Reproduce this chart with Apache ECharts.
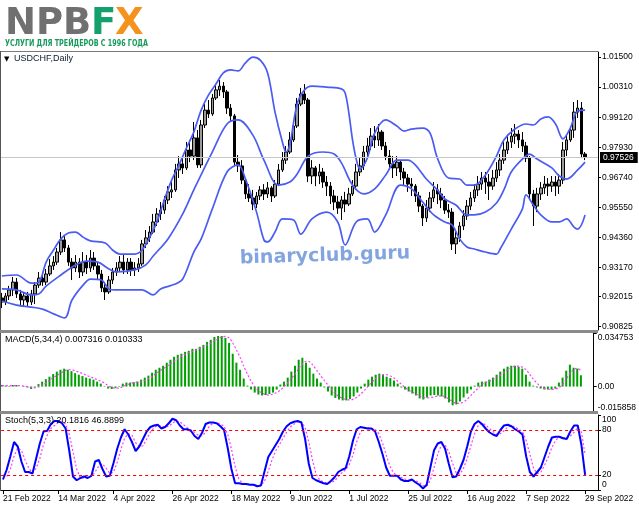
<!DOCTYPE html>
<html><head><meta charset="utf-8">
<script src="https://cdn.jsdelivr.net/npm/echarts@6/dist/echarts.min.js"></script>
<style>html,body{margin:0;padding:0;background:#fff}#c{width:639px;height:508px}</style>
</head><body><div id="c"></div>
<script>
// ---------- categories / tick labels ----------
const MONTHS = ['Jan','Feb','Mar','Apr','May','Jun','Jul','Aug','Sep','Oct','Nov','Dec'];
const dates = [];
for (let t = Date.UTC(2022,1,21); t <= Date.UTC(2022,8,29); t += 86400000) {
  const d = new Date(t); const w = d.getUTCDay();
  if (w === 0 || w === 6) continue;
  dates.push(d.getUTCDate() + ' ' + MONTHS[d.getUTCMonth()] + ' ' + d.getUTCFullYear());
}
const categories = dates.concat(['', '', '']);
const dateTicks = ['21 Feb 2022','14 Mar 2022','4 Apr 2022','26 Apr 2022','18 May 2022','9 Jun 2022','1 Jul 2022','25 Jul 2022','16 Aug 2022','7 Sep 2022','29 Sep 2022'];
const priceTicks = [1.01500,1.00310,0.99120,0.97930,0.96740,0.95550,0.94360,0.93170,0.92015,0.90825];
const macdTicks = [0.034753, 0, -0.015858];
const stochTicks = [100, 80, 20, 0];
const lastPrice = 0.97526;

// ---------- price (OHLC) ----------
const opens = [0.9196,0.9180,0.9204,0.9228,0.9259,0.9212,0.9188,0.9204,0.9180,0.9212,
0.9247,0.9275,0.9259,0.9291,0.9323,0.9338,0.9378,0.9426,0.9394,0.9338,
0.9315,0.9338,0.9299,0.9338,0.9315,0.9354,0.9323,0.9291,0.9236,0.9220,
0.9267,0.9299,0.9315,0.9338,0.9307,0.9338,0.9307,0.9315,0.9331,0.9410,
0.9434,0.9457,0.9497,0.9529,0.9544,0.9584,0.9616,0.9624,0.9703,0.9727,
0.9711,0.9782,0.9758,0.9830,0.9723,0.9881,0.9940,0.9925,0.9988,1.0020,
1.0035,1.0012,0.9948,0.9917,0.9734,0.9719,0.9663,0.9608,0.9592,0.9568,
0.9600,0.9624,0.9608,0.9632,0.9600,0.9647,0.9703,0.9742,0.9774,0.9822,
0.9877,0.9964,1.0004,0.9980,0.9679,0.9711,0.9679,0.9695,0.9655,0.9639,
0.9600,0.9576,0.9552,0.9584,0.9568,0.9608,0.9639,0.9695,0.9719,0.9774,
0.9798,0.9837,0.9822,0.9853,0.9798,0.9758,0.9727,0.9711,0.9734,0.9695,
0.9671,0.9647,0.9639,0.9600,0.9560,0.9513,0.9552,0.9592,0.9624,0.9608,
0.9584,0.9544,0.9536,0.9410,0.9434,0.9481,0.9521,0.9560,0.9592,0.9624,
0.9647,0.9671,0.9655,0.9639,0.9671,0.9703,0.9742,0.9782,0.9814,0.9837,
0.9845,0.9822,0.9798,0.9750,0.9608,0.9560,0.9608,0.9632,0.9647,0.9639,
0.9655,0.9639,0.9663,0.9782,0.9822,0.9861,0.9932,0.9948,0.9766];
const closes = [0.9180,0.9204,0.9228,0.9259,0.9212,0.9188,0.9204,0.9180,0.9212,0.9247,
0.9275,0.9259,0.9291,0.9323,0.9338,0.9378,0.9426,0.9394,0.9338,0.9315,
0.9338,0.9299,0.9338,0.9315,0.9354,0.9323,0.9291,0.9236,0.9220,0.9267,
0.9299,0.9315,0.9338,0.9307,0.9338,0.9307,0.9315,0.9331,0.9410,0.9434,
0.9457,0.9497,0.9529,0.9544,0.9584,0.9616,0.9624,0.9703,0.9727,0.9711,
0.9782,0.9758,0.9830,0.9723,0.9881,0.9940,0.9925,0.9988,1.0020,1.0035,
1.0012,0.9948,0.9917,0.9734,0.9719,0.9663,0.9608,0.9592,0.9568,0.9600,
0.9624,0.9608,0.9632,0.9600,0.9647,0.9703,0.9742,0.9774,0.9822,0.9877,
0.9964,1.0004,0.9980,0.9679,0.9711,0.9679,0.9695,0.9655,0.9639,0.9600,
0.9576,0.9552,0.9584,0.9568,0.9608,0.9639,0.9695,0.9719,0.9774,0.9798,
0.9837,0.9822,0.9853,0.9798,0.9758,0.9727,0.9711,0.9734,0.9695,0.9671,
0.9647,0.9639,0.9600,0.9560,0.9513,0.9552,0.9592,0.9624,0.9608,0.9584,
0.9544,0.9536,0.9410,0.9434,0.9481,0.9521,0.9560,0.9592,0.9624,0.9647,
0.9671,0.9655,0.9639,0.9671,0.9703,0.9742,0.9782,0.9814,0.9837,0.9845,
0.9822,0.9798,0.9750,0.9608,0.9560,0.9608,0.9632,0.9647,0.9639,0.9655,
0.9639,0.9663,0.9782,0.9822,0.9861,0.9932,0.9948,0.9766,0.97526];
const lows = [0.9156,0.9168,0.9188,0.9204,0.9196,0.9168,0.9160,0.9164,0.9168,0.9172,
0.9236,0.9244,0.9247,0.9283,0.9307,0.9327,0.9366,0.9378,0.9323,0.9267,
0.9299,0.9275,0.9283,0.9291,0.9299,0.9307,0.9267,0.9220,0.9188,0.9212,
0.9251,0.9283,0.9299,0.9291,0.9291,0.9283,0.9283,0.9299,0.9323,0.9394,
0.9418,0.9449,0.9481,0.9505,0.9529,0.9568,0.9592,0.9616,0.9671,0.9687,
0.9703,0.9734,0.9742,0.9711,0.9711,0.9869,0.9909,0.9917,0.9980,0.9996,
0.9988,0.9925,0.9893,0.9719,0.9695,0.9647,0.9588,0.9576,0.9544,0.9552,
0.9584,0.9584,0.9592,0.9576,0.9592,0.9639,0.9695,0.9727,0.9766,0.9814,
0.9869,0.9956,0.9964,0.9655,0.9647,0.9639,0.9647,0.9632,0.9600,0.9568,
0.9544,0.9529,0.9505,0.9536,0.9560,0.9600,0.9624,0.9679,0.9703,0.9750,
0.9782,0.9790,0.9798,0.9782,0.9742,0.9703,0.9671,0.9679,0.9663,0.9639,
0.9616,0.9600,0.9576,0.9536,0.9481,0.9497,0.9536,0.9576,0.9568,0.9552,
0.9529,0.9513,0.9386,0.9370,0.9418,0.9465,0.9505,0.9544,0.9576,0.9600,
0.9624,0.9608,0.9584,0.9624,0.9655,0.9679,0.9727,0.9766,0.9790,0.9806,
0.9790,0.9774,0.9734,0.9584,0.9481,0.9536,0.9584,0.9608,0.9600,0.9616,
0.9600,0.9608,0.9647,0.9758,0.9814,0.9830,0.9909,0.9750,0.9742];
const highs = [0.9216,0.9216,0.9244,0.9279,0.9275,0.9228,0.9216,0.9220,0.9228,0.9259,
0.9299,0.9299,0.9311,0.9350,0.9362,0.9394,0.9457,0.9441,0.9406,0.9354,
0.9366,0.9354,0.9378,0.9366,0.9386,0.9378,0.9338,0.9307,0.9259,0.9283,
0.9315,0.9338,0.9362,0.9370,0.9354,0.9354,0.9338,0.9354,0.9426,0.9465,
0.9481,0.9529,0.9552,0.9576,0.9600,0.9639,0.9655,0.9727,0.9758,0.9750,
0.9814,0.9822,0.9893,0.9861,0.9901,0.9964,0.9980,1.0004,1.0043,1.0059,
1.0051,1.0020,0.9964,0.9925,0.9762,0.9742,0.9671,0.9647,0.9624,0.9616,
0.9639,0.9647,0.9655,0.9639,0.9663,0.9727,0.9774,0.9798,0.9853,0.9901,
0.9988,1.0028,1.0043,0.9988,0.9742,0.9719,0.9727,0.9711,0.9679,0.9655,
0.9624,0.9600,0.9600,0.9616,0.9632,0.9663,0.9727,0.9750,0.9798,0.9830,
0.9869,0.9877,0.9885,0.9861,0.9814,0.9782,0.9758,0.9758,0.9742,0.9711,
0.9687,0.9671,0.9647,0.9616,0.9568,0.9584,0.9616,0.9655,0.9647,0.9632,
0.9600,0.9568,0.9552,0.9457,0.9497,0.9544,0.9584,0.9616,0.9647,0.9679,
0.9695,0.9695,0.9687,0.9703,0.9734,0.9766,0.9814,0.9837,0.9869,0.9885,
0.9861,0.9853,0.9814,0.9758,0.9624,0.9632,0.9655,0.9679,0.9671,0.9679,
0.9679,0.9687,0.9814,0.9845,0.9877,0.9972,0.9980,0.9972,0.9774];

// ---------- Bollinger bands (read at sampled bars) ----------
const upperIdx = [0,4,8,10,12,14,16,18,20,22,24,28,30,32,36,38,40,42,44,46,48,50,52,54,56,58,60,62,64,66,68,70,72,74,76,77,78,80,82,84,88,92,93,94,95,96,97,99,101,104,107,109,111,114,116,118,121,124,126,128,131,134,136,139,142,144,146,148,150,152,154,156,158];
const upperBand = [0.9283,0.9287,0.9255,0.9259,0.9338,0.9386,0.9430,0.9453,0.9457,0.9437,0.9422,0.9414,0.9386,0.9370,0.9370,0.9386,0.9434,0.9497,0.9584,0.9663,0.9723,0.9790,0.9853,0.9940,1.0000,1.0043,1.0087,1.0099,1.0095,1.0127,1.0150,1.0138,1.0087,0.9932,0.9814,0.9774,0.9802,0.9964,1.0020,1.0035,1.0031,1.0024,1.0008,0.9929,0.9822,0.9746,0.9707,0.9750,0.9849,0.9901,0.9877,0.9857,0.9865,0.9869,0.9849,0.9750,0.9671,0.9667,0.9643,0.9643,0.9683,0.9758,0.9822,0.9865,0.9885,0.9881,0.9905,0.9913,0.9885,0.9826,0.9869,0.9936,0.9940];
const middleIdx = [0,4,8,10,12,16,20,23,26,29,31,36,39,41,45,49,52,57,61,64,68,71,75,78,80,83,87,90,92,95,98,101,104,107,110,112,115,118,120,123,126,128,131,134,136,138,141,143,145,149,151,153,156,158];
const middleBand = [0.9232,0.9228,0.9208,0.9212,0.9243,0.9287,0.9327,0.9342,0.9338,0.9311,0.9299,0.9307,0.9327,0.9362,0.9430,0.9529,0.9624,0.9774,0.9885,0.9901,0.9841,0.9742,0.9643,0.9655,0.9687,0.9758,0.9774,0.9766,0.9731,0.9643,0.9608,0.9628,0.9683,0.9742,0.9742,0.9723,0.9667,0.9624,0.9588,0.9564,0.9525,0.9525,0.9536,0.9572,0.9624,0.9695,0.9746,0.9766,0.9746,0.9711,0.9679,0.9667,0.9703,0.9734];
const lowerIdx = [0,4,8,11,14,17,19,22,24,27,29,31,38,41,43,47,49,52,54,57,61,64,66,69,71,72,74,76,79,81,84,88,91,93,96,99,101,104,108,111,114,117,120,122,124,126,128,131,134,135,138,141,142,144,146,149,151,153,155,156,158];
const lowerBand = [0.9184,0.9168,0.9160,0.9152,0.9133,0.9117,0.9188,0.9247,0.9271,0.9267,0.9232,0.9228,0.9228,0.9208,0.9232,0.9251,0.9271,0.9378,0.9430,0.9548,0.9695,0.9723,0.9667,0.9536,0.9426,0.9418,0.9457,0.9509,0.9505,0.9449,0.9509,0.9536,0.9497,0.9406,0.9497,0.9509,0.9457,0.9525,0.9643,0.9628,0.9576,0.9525,0.9497,0.9485,0.9430,0.9398,0.9390,0.9378,0.9370,0.9390,0.9469,0.9548,0.9604,0.9564,0.9525,0.9497,0.9497,0.9509,0.9477,0.9469,0.9525];

// ---------- MACD(5,34,4) ----------
const macdHist = [0.0010,0.0006,0.0003,0.0010,0.0010,0.0000,-0.0003,-0.0006,-0.0016,-0.0006,
0.0016,0.0032,0.0048,0.0064,0.0081,0.0097,0.0109,0.0116,0.0109,0.0100,
0.0087,0.0077,0.0068,0.0058,0.0052,0.0045,0.0032,0.0019,0.0003,-0.0013,
-0.0016,-0.0010,0.0003,0.0019,0.0026,0.0026,0.0029,0.0032,0.0045,0.0058,
0.0071,0.0090,0.0109,0.0122,0.0135,0.0155,0.0174,0.0193,0.0206,0.0213,
0.0225,0.0232,0.0245,0.0245,0.0258,0.0270,0.0290,0.0303,0.0322,0.0328,
0.0328,0.0316,0.0283,0.0213,0.0155,0.0109,0.0052,0.0006,-0.0019,-0.0039,
-0.0052,-0.0058,-0.0055,-0.0048,-0.0039,-0.0019,0.0013,0.0032,0.0058,0.0097,
0.0135,0.0174,0.0187,0.0155,0.0122,0.0084,0.0052,0.0026,-0.0006,-0.0032,
-0.0058,-0.0074,-0.0084,-0.0090,-0.0090,-0.0081,-0.0064,-0.0039,-0.0013,0.0019,
0.0045,0.0064,0.0077,0.0084,0.0077,0.0064,0.0055,0.0039,0.0019,-0.0006,
-0.0019,-0.0032,-0.0045,-0.0058,-0.0077,-0.0084,-0.0071,-0.0058,-0.0055,-0.0058,
-0.0064,-0.0077,-0.0103,-0.0122,-0.0116,-0.0097,-0.0071,-0.0045,-0.0019,0.0006,
0.0026,0.0032,0.0032,0.0045,0.0058,0.0077,0.0097,0.0116,0.0129,0.0135,
0.0135,0.0129,0.0116,0.0077,0.0032,0.0006,-0.0006,-0.0013,-0.0019,-0.0019,
-0.0019,-0.0013,0.0026,0.0058,0.0103,0.0142,0.0122,0.0116,0.007316];
const macdSignal = [0.0006,0.0006,0.0006,0.0006,0.0006,0.0006,0.0003,0.0000,-0.0006,-0.0008,
-0.0003,0.0006,0.0023,0.0039,0.0058,0.0071,0.0087,0.0100,0.0109,0.0109,
0.0103,0.0093,0.0084,0.0074,0.0064,0.0055,0.0045,0.0035,0.0023,0.0006,
-0.0006,-0.0010,-0.0010,0.0000,0.0010,0.0019,0.0026,0.0029,0.0032,0.0039,
0.0052,0.0064,0.0084,0.0100,0.0116,0.0129,0.0148,0.0164,0.0180,0.0196,
0.0209,0.0219,0.0229,0.0238,0.0248,0.0258,0.0270,0.0280,0.0296,0.0309,
0.0322,0.0325,0.0316,0.0283,0.0238,0.0190,0.0132,0.0081,0.0035,0.0000,
-0.0026,-0.0042,-0.0052,-0.0055,-0.0048,-0.0039,-0.0023,0.0000,0.0023,0.0052,
0.0081,0.0116,0.0148,0.0164,0.0161,0.0135,0.0103,0.0071,0.0039,0.0010,
-0.0019,-0.0045,-0.0064,-0.0077,-0.0084,-0.0087,-0.0081,-0.0068,-0.0048,-0.0023,
0.0003,0.0029,0.0052,0.0068,0.0077,0.0077,0.0068,0.0055,0.0035,0.0016,
-0.0006,-0.0023,-0.0035,-0.0048,-0.0061,-0.0071,-0.0074,-0.0071,-0.0068,-0.0061,
-0.0061,-0.0068,-0.0081,-0.0097,-0.0109,-0.0109,-0.0100,-0.0081,-0.0058,-0.0032,
-0.0010,0.0013,0.0026,0.0035,0.0045,0.0058,0.0074,0.0093,0.0109,0.0122,
0.0132,0.0132,0.0126,0.0109,0.0081,0.0048,0.0023,0.0000,-0.0010,-0.0016,
-0.0019,-0.0016,-0.0006,0.0013,0.0048,0.0087,0.0109,0.0119,0.010333];

// ---------- Stochastic(5,3,3) ----------
const stochK = [14,27,45,64,58,38,24,24,22,42,62,78,79,88,92,92,89,82,52,18,
13,16,18,16,19,38,40,28,18,19,36,55,70,81,74,64,52,58,68,78,
84,86,87,82,84,89,95,93,86,81,81,79,72,68,76,88,90,90,89,85,
80,56,28,9,9,8,8,7,7,5,6,25,44,52,60,68,78,85,89,91,
92,90,68,35,16,13,11,9,8,12,17,24,27,29,45,66,81,84,83,82,
82,78,64,48,30,19,19,19,14,12,12,14,10,7,2,7,30,53,62,64,
55,35,17,18,28,40,58,78,88,92,88,82,77,74,72,80,86,87,85,81,
78,74,45,24,18,24,30,44,58,70,71,71,69,68,78,86,86,60,20.1816];
const stochD = [20,18,28,45,56,53,40,29,23,29,42,61,73,82,86,90,91,88,74,51,
28,16,16,17,18,24,32,35,29,22,24,37,54,69,75,73,63,58,59,68,
77,83,86,85,84,85,89,92,91,87,83,80,77,73,72,77,85,89,90,88,
85,74,55,31,15,9,8,8,7,6,6,12,25,40,52,60,69,77,84,88,
91,91,83,64,40,21,13,11,9,10,12,18,23,27,34,47,64,77,83,83,
82,81,75,63,47,32,23,19,17,15,13,13,12,10,6,5,13,30,48,60,
60,51,36,23,21,29,42,59,75,86,89,87,82,78,74,75,79,84,86,84,
81,78,66,48,29,22,24,33,44,57,66,71,70,69,72,77,83,77,46.8899];

// ---------- chart ----------
const chart = echarts.init(document.getElementById('c'), null, {renderer: 'canvas'});
const FONT = 'Liberation Sans, Arial, sans-serif';
const tickFn = (idx, val) => dateTicks.indexOf(val) >= 0;
const ohlc = opens.map((o, i) => [o, closes[i], lows[i], highs[i]]);
const pairs = (idx, vals) => idx.map((k, j) => [k, vals[j]]);

function xAxisFor(gi) {
  const bottom = gi === 2;
  return {
    type: 'category', gridIndex: gi, data: categories, boundaryGap: true,
    axisLine: {show: bottom, lineStyle: {color: '#000', width: 1}},
    axisTick: {show: bottom, alignWithLabel: true, interval: tickFn, length: 4, lineStyle: {color: '#000'}},
    axisLabel: {show: bottom, interval: tickFn, align: 'left', margin: 4, fontSize: 8.5, fontFamily: FONT, color: '#000'},
    splitLine: {show: false}
  };
}
function yAxisFor(gi, min, max, ticks, fmt) {
  return {
    type: 'value', gridIndex: gi, position: 'right', min: min, max: max,
    axisLine: {show: true, lineStyle: {color: '#000', width: 1}},
    axisTick: {show: true, customValues: ticks, length: 3, inside: false, lineStyle: {color: '#000'}},
    axisLabel: {customValues: ticks, formatter: fmt, fontSize: 8.5, fontFamily: FONT, color: '#000', margin: 4,
      rich: {dn: {padding: [10, 0, 0, 0], fontSize: 8.5, fontFamily: FONT, color: '#000'},
             up: {padding: [0, 0, 7, 0], fontSize: 8.5, fontFamily: FONT, color: '#000'},
             up2: {padding: [0, 0, 10, 0], fontSize: 8.5, fontFamily: FONT, color: '#000'}}},
    splitLine: {show: false}
  };
}

// measure text for fitting logo subtitle
const mctx = document.createElement('canvas').getContext('2d');
function fitScale(text, font, w) { mctx.font = font; return w / mctx.measureText(text).width; }
const subFont = 'bold 9px "DejaVu Sans Condensed", "DejaVu Sans", sans-serif';
const subText = 'УСЛУГИ ДЛЯ ТРЕЙДЕРОВ С 1996 ГОДА';
const titleFont = '9px ' + FONT;

const bandStyle = {color: '#4a5cf2', width: 1.7};

chart.setOption({
  animation: false,
  backgroundColor: '#ffffff',
  grid: [
    {left: 0, top: 52, width: 598, height: 278, show: false},
    {left: 0, top: 333, width: 598, height: 78, show: false},
    {left: 0, top: 415, width: 598, height: 75, show: false}
  ],
  xAxis: [xAxisFor(0), xAxisFor(1), xAxisFor(2)],
  yAxis: [
    yAxisFor(0, 0.90692, 1.01701, priceTicks, v => v.toFixed(5)),
    yAxisFor(1, -0.015858, 0.034753, macdTicks, v => v === 0 ? '0.00' : (v > 0.03 ? '{dn|' + v.toFixed(6) + '}' : '{up|' + v.toFixed(6) + '}')),
    yAxisFor(2, 0, 100, stochTicks, v => v === 100 ? '{dn|100}' : (v === 0 ? '{up2|0}' : String(v)))
  ],
  series: [
    {type: 'line', xAxisIndex: 0, yAxisIndex: 0, data: [[0, lastPrice], [158, lastPrice]], symbol: 'none',
     lineStyle: {opacity: 0}, z: 1,
     markLine: {silent: true, precision: 5, symbol: ['none', 'none'],
       lineStyle: {color: '#c6c6c6', type: 'solid', width: 1},
       label: {show: true, position: 'end', formatter: lastPrice.toFixed(5), color: '#fff', backgroundColor: '#000',
               padding: [1, 4, 1, 3], fontSize: 8.5, fontFamily: FONT, distance: 2},
       data: [{yAxis: lastPrice}]}},
    {type: 'candlestick', xAxisIndex: 0, yAxisIndex: 0, data: ohlc, barWidth: 3, z: 2,
     itemStyle: {color: '#9a9a9a', color0: '#000000', borderColor: '#000000', borderColor0: '#000000', borderWidth: 1}},
    {type: 'line', xAxisIndex: 0, yAxisIndex: 0, data: pairs(upperIdx, upperBand), smooth: 0.35, symbol: 'none', lineStyle: bandStyle, z: 3},
    {type: 'line', xAxisIndex: 0, yAxisIndex: 0, data: pairs(middleIdx, middleBand), smooth: 0.35, symbol: 'none', lineStyle: bandStyle, z: 3},
    {type: 'line', xAxisIndex: 0, yAxisIndex: 0, data: pairs(lowerIdx, lowerBand), smooth: 0.35, symbol: 'none', lineStyle: bandStyle, z: 3},
    {type: 'bar', xAxisIndex: 1, yAxisIndex: 1, data: macdHist, barWidth: 2, itemStyle: {color: '#00a000'}},
    {type: 'line', xAxisIndex: 1, yAxisIndex: 1, data: macdSignal, symbol: 'none', smooth: 0.3,
     lineStyle: {color: '#ff3cff', width: 1.2, type: [2, 2]}},
    {type: 'line', xAxisIndex: 2, yAxisIndex: 2, data: stochD, symbol: 'none',
     lineStyle: {color: '#ff3cff', width: 1.2, type: [2, 2]},
     markLine: {silent: true, symbol: ['none', 'none'], label: {show: false},
       lineStyle: {color: '#ff0000', type: [3, 3], width: 1}, data: [{yAxis: 20}, {yAxis: 80}]}},
    {type: 'line', xAxisIndex: 2, yAxisIndex: 2, data: stochK, symbol: 'none',
     lineStyle: {color: '#0000ff', width: 2}, z: 4}
  ],
  graphic: [
    // frames
    {type: 'rect', shape: {x: 0, y: 51, width: 598, height: 1}, style: {fill: '#7a7a7a'}, silent: true, z: 10},
    {type: 'rect', shape: {x: 0, y: 51, width: 1, height: 440}, style: {fill: '#555'}, silent: true, z: 10},
    {type: 'rect', shape: {x: 0, y: 330, width: 598, height: 3}, style: {fill: '#8a8a8a'}, silent: true, z: 10},
    {type: 'rect', shape: {x: 0, y: 411, width: 598, height: 3}, style: {fill: '#8a8a8a'}, silent: true, z: 10},
    // logo
    {type: 'text', left: 5, top: 6, style: {text: 'NPB', font: 'bold 37px "DejaVu Sans", sans-serif', fill: '#707070'}, z: 10},
    {type: 'text', left: 91, top: 6, style: {text: 'F', font: 'bold 37px "DejaVu Sans", sans-serif', fill: '#14a06c'}, z: 10},
    {type: 'text', left: 115, top: 6, style: {text: 'X', font: 'bold 37px "DejaVu Sans", sans-serif', fill: '#f5921e'}, z: 10},
    {type: 'text', x: 5, y: 39, scaleX: fitScale(subText, subFont, 143), originX: 0, originY: 0,
     style: {text: subText, font: subFont, fill: '#179a5c'}, z: 10},
    // pane titles
    {type: 'text', x: 4, y: 56, style: {text: '▼', font: '7px "DejaVu Sans", sans-serif', fill: '#000'}, z: 10},
    {type: 'text', x: 14, y: 54, style: {text: 'USDCHF,Daily', font: titleFont, fill: '#0b1a33'}, z: 10},
    {type: 'text', x: 5, y: 335, style: {text: 'MACD(5,34,4) 0.007316 0.010333', font: titleFont, fill: '#000'}, z: 10},
    {type: 'text', x: 5, y: 416, style: {text: 'Stoch(5,3,3) 20.1816 46.8899', font: titleFont, fill: '#000'}, z: 10},
    // watermark
    {type: 'text', x: 325, y: 256, rotation: 0.03, style: {text: 'binaryclub.guru', font: 'bold 19px "DejaVu Sans", sans-serif',
      fill: 'rgba(100,142,215,0.8)', textAlign: 'center', textVerticalAlign: 'middle'}, z: 10}
  ]
});
</script>
</body></html>
